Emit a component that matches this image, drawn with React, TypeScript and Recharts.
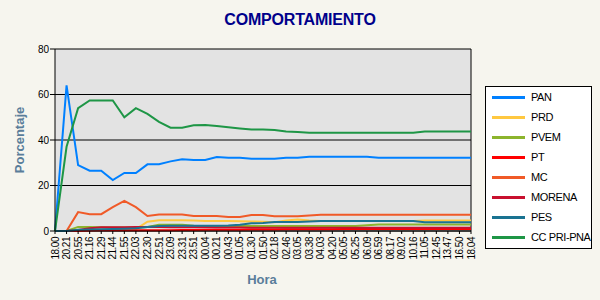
import { CartesianGrid, Label, Legend, Line, LineChart, ReferenceLine, XAxis, YAxis } from "recharts";

const hours = [
  "18.00", "20.21", "20.55", "21.16", "21.29", "21.44", "21.55", "22.03", "22.30", "22.51",
  "23.09", "23.31", "23.51", "00.04", "00.21", "00.43", "01.05", "01.30", "01.50", "02.18",
  "02.46", "03.05", "03.38", "04.03", "04.20", "05.05", "05.25", "06.09", "06.59", "08.17",
  "09.02", "10.16", "11.05", "12.45", "13.47", "16.50", "18.04",
];

const pan = [
  0, 64, 29, 26.5, 26.5, 22.4, 25.5, 25.5, 29.3, 29.3, 30.6, 31.5, 31.2, 31.2, 32.5, 32.2, 32.2, 31.8, 31.8, 31.8,
  32.2, 32.2, 32.6, 32.6, 32.6, 32.6, 32.6, 32.6, 32.2, 32.2, 32.2, 32.2, 32.2, 32.2, 32.2, 32.2, 32.2,
];
const prd = [
  0, 0, 0.3, 0.5, 0.5, 0.5, 0.5, 0.8, 4.1, 4.7, 4.7, 4.7, 4.6, 4.4, 4.4, 4.4, 4.3, 4.2, 4.1, 3.9,
  4.6, 5, 4.6, 4.4, 4.4, 4.4, 4.4, 4.4, 4.4, 4.4, 4.4, 4.4, 4.6, 4.6, 4.6, 4.6, 4.6,
];
const pvem = [
  0, 0, 1.8, 1.8, 1.6, 1.5, 1.5, 1.5, 1.8, 2.8, 2.8, 2.8, 2.3, 2.2, 2.2, 2.2, 2.2, 2.2, 2.2, 2.2,
  2.2, 2.2, 2.2, 2.2, 2.2, 2.2, 2.2, 2.5, 2.9, 2.9, 2.9, 2.9, 2.9, 2.9, 2.9, 2.9, 2.9,
];
const pt = [
  0, 0, 0, 0.2, 0.3, 0.3, 0.3, 0.3, 0.3, 0.3, 0.3, 0.4, 0.4, 0.5, 0.5, 0.6, 0.6, 0.7, 0.7, 0.7,
  0.8, 0.8, 0.8, 0.8, 0.8, 0.9, 0.9, 0.9, 0.9, 0.9, 0.9, 0.9, 0.9, 0.9, 0.9, 0.9, 0.9,
];
const mc = [
  0, 0, 8.3, 7.4, 7.4, 10.5, 13.2, 10.5, 6.6, 7.3, 7.3, 7.3, 6.6, 6.6, 6.6, 6.2, 6.2, 7, 7, 6.5,
  6.5, 6.5, 6.8, 7.1, 7.1, 7.1, 7.1, 7.1, 7.1, 7.1, 7.1, 7.1, 7.1, 7.1, 7.1, 7.1, 7.1,
];
const morena = [
  0, 0, 0.4, 1.2, 1.6, 1.7, 1.7, 1.8, 1.8, 1.8, 1.7, 1.7, 1.6, 1.6, 1.5, 1.5, 1.5, 1.4, 1.4, 1.4,
  1.4, 1.4, 1.4, 1.4, 1.4, 1.4, 1.4, 1.4, 1.4, 1.4, 1.4, 1.4, 1.4, 1.4, 1.4, 1.4, 1.4,
];
const pes = [
  0, 0, 0.5, 0.7, 0.8, 0.9, 1, 1.2, 1.8, 2.2, 2.3, 2.3, 2.3, 2.3, 2.3, 2.4, 2.8, 3.4, 3.5, 4,
  4, 4, 4.2, 4.4, 4.4, 4.4, 4.4, 4.4, 4.4, 4.4, 4.4, 4.4, 3.8, 3.8, 3.8, 3.8, 3.8,
];
const ccPriPna = [
  0, 37, 54, 57.4, 57.4, 57.4, 50, 54, 51.5, 48, 45.4, 45.4, 46.5, 46.6, 46.2, 45.6, 45.1, 44.6, 44.6, 44.4,
  43.7, 43.5, 43.2, 43.2, 43.2, 43.2, 43.2, 43.2, 43.2, 43.2, 43.2, 43.2, 43.7, 43.7, 43.7, 43.7, 43.7,
];

const yTicks = [0, 20, 40, 60, 80];

const series = [
  { key: "PAN", values: pan, color: "#0080ff" },
  { key: "PRD", values: prd, color: "#ffc840" },
  { key: "PVEM", values: pvem, color: "#8cb42d" },
  { key: "PT", values: pt, color: "#ff0000" },
  { key: "MC", values: mc, color: "#f05a28" },
  { key: "MORENA", values: morena, color: "#c8102e" },
  { key: "PES", values: pes, color: "#1a7391" },
  { key: "CC PRI-PNA", values: ccPriPna, color: "#1e9646" },
];

const data = hours.map((hora, i) => {
  const row: Record<string, string | number> = { hora };
  series.forEach((s) => {
    row[s.key] = s.values[i];
  });
  return row;
});

const FONT = '"Liberation Sans", Arial, sans-serif';

const seriesOrder = (name: string) => series.findIndex((s) => s.key === name);

const HourTick = ({ x, y, payload }: any) => (
  <text
    x={x}
    y={y}
    transform={`rotate(-90, ${x}, ${y})`}
    textAnchor="end"
    dy="0.35em"
    fontSize={10}
    letterSpacing={-0.5}
    fontFamily={FONT}
    fill="#000"
  >
    {payload.value}
  </text>
);

const LegendBox = ({ payload }: any) => {
  const items = [...(payload || [])].sort((a: any, b: any) => seriesOrder(a.value) - seriesOrder(b.value));
  return (
    <div
      style={{
        width: 105,
        height: 161,
        border: "1px solid #000",
        background: "#fff",
        fontFamily: FONT,
        fontSize: 11,
        letterSpacing: -0.4,
      }}
    >
      {items.map((item: any) => (
        <div key={item.value} style={{ height: 20, display: "flex", alignItems: "center" }}>
          <span style={{ display: "inline-block", width: 33, height: 3, marginLeft: 6, background: item.color }} />
          <span style={{ marginLeft: 6, color: "#000" }}>{item.value}</span>
        </div>
      ))}
    </div>
  );
};

export default function App() {
  return (
    <div style={{ position: "absolute", left: 0, top: 0, width: 600, height: 300, background: "#f6f5ee" }}>
      <div
        style={{
          position: "absolute",
          left: 0,
          top: 12,
          width: 600,
          textAlign: "center",
          fontFamily: FONT,
          fontWeight: "bold",
          fontSize: 16,
          lineHeight: "16px",
          color: "#00008b",
          letterSpacing: -0.2,
        }}
      >
        COMPORTAMIENTO
      </div>
      <LineChart width={600} height={300} data={data} margin={{ top: 49, right: 22, left: 0, bottom: 0 }}>
        <CartesianGrid vertical={false} stroke="#000" fill="#e3e3e3" />
        <XAxis
          dataKey="hora"
          interval={0}
          height={69}
          tickSize={3}
          tickMargin={3}
          tick={<HourTick />}
          axisLine={{ stroke: "#000" }}
          tickLine={{ stroke: "#000" }}
        >
          <Label
            content={() => (
              <text x={262} y={284} textAnchor="middle" fontFamily={FONT} fontWeight="bold" fontSize={13} fill="#5a7d9a">
                Hora
              </text>
            )}
          />
        </XAxis>
        <YAxis
          domain={[0, 80]}
          ticks={yTicks}
          width={55}
          tickSize={5}
          tickMargin={1}
          tick={{ fontSize: 10, fill: "#000", fontFamily: FONT }}
          axisLine={{ stroke: "#000" }}
          tickLine={{ stroke: "#000" }}
        >
          <Label
            content={() => (
              <text
                x={24}
                y={140}
                transform="rotate(-90, 24, 140)"
                textAnchor="middle"
                fontFamily={FONT}
                fontWeight="bold"
                fontSize={13}
                fill="#5a7d9a"
              >
                Porcentaje
              </text>
            )}
          />
        </YAxis>
        <ReferenceLine x={hours[hours.length - 1]} stroke="#000" />
        <Legend
          layout="vertical"
          align="right"
          verticalAlign="top"
          content={<LegendBox />}
          wrapperStyle={{ right: 8, top: 86 }}
        />
        {series.map((s) => (
          <Line
            key={s.key}
            type="linear"
            dataKey={s.key}
            stroke={s.color}
            strokeWidth={2}
            dot={false}
            isAnimationActive={false}
          />
        ))}
      </LineChart>
    </div>
  );
}
